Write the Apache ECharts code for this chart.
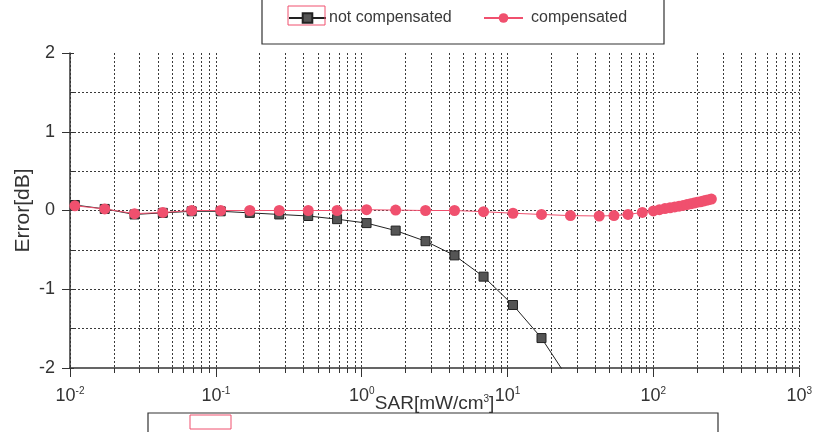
<!DOCTYPE html>
<html>
<head>
<meta charset="utf-8">
<script src="https://cdn.jsdelivr.net/npm/echarts@6/dist/echarts.min.js"></script>
<style>
html,body{margin:0;padding:0;background:#fff;}
#chart{width:815px;height:432px;}
</style>
</head>
<body>
<div id="chart"></div>
<script>
// ---- data ----
const sarNotComp = [0.0108, 0.0173, 0.0277, 0.0433, 0.0683, 0.108, 0.171, 0.272, 0.43, 0.678, 1.08, 1.71, 2.74, 4.33, 6.85, 10.9, 17.1, 27.0];
const errNotComp = [0.07, 0.02, -0.05, -0.03, -0.01, -0.01, -0.03, -0.05, -0.07, -0.11, -0.16, -0.255, -0.39, -0.57, -0.84, -1.20, -1.62, -2.18];

const sarComp = [0.0108, 0.0173, 0.0277, 0.0433, 0.0683, 0.108, 0.171, 0.272, 0.43, 0.678, 1.08, 1.71, 2.74, 4.33, 6.85, 10.9, 17.1, 27.0, 42.5, 53.7, 67.0, 84.0,
  100, 110, 120, 130, 140, 150, 160, 170, 180, 190, 200, 210, 220, 230, 240, 250];
const errComp = [0.06, 0.02, -0.04, -0.025, 0, 0, 0, 0, 0, 0, 0.01, 0.005, 0, 0, -0.015, -0.035, -0.05, -0.065, -0.07, -0.065, -0.05, -0.025,
  -0.005, 0.01, 0.025, 0.035, 0.045, 0.055, 0.065, 0.075, 0.085, 0.095, 0.105, 0.11, 0.12, 0.13, 0.138, 0.145];

const seriesNames = ['not compensated', 'compensated'];
const yTickLabels = ['-2', '-1', '0', '1', '2'];
const xAxisTitle = 'SAR[mW/cm';
const xAxisTitleSup = '3';
const yAxisTitle = 'Error[dB]';

// ---- chart ----
const FONT = "'Liberation Sans Narrow', 'Arial Narrow', 'Liberation Sans', Arial, sans-serif";
const FONT2 = "'Liberation Sans', Arial, sans-serif";
const PINK = '#f0506e';
const GRIDC = '#3a3a3a';

const chart = echarts.init(document.getElementById('chart'), null, {renderer: 'canvas'});

function zip(xs, ys) { return xs.map((x, i) => [x, ys[i]]); }

const option = {
  backgroundColor: '#fff',
  animation: false,
  grid: {left: 70, right: 13, top: 53, bottom: 64, containLabel: false},
  legend: [
    {
      data: [seriesNames[0]], left: 283, top: 5,
      itemWidth: 37, itemHeight: 12, itemGap: 0,
      textStyle: {fontFamily: FONT2, fontSize: 16, color: '#3a3a3a', padding: [0, 0, 0, -2]}
    },
    {
      data: [seriesNames[1]], left: 478, top: 5,
      itemWidth: 39, itemHeight: 12, itemGap: 0,
      textStyle: {fontFamily: FONT2, fontSize: 16, color: '#3a3a3a', padding: [0, 0, 0, 3]}
    }
  ],
  xAxis: [{
    type: 'log', logBase: 10, min: 0.01, max: 1000,
    name: '{t|' + xAxisTitle + '}{s|' + xAxisTitleSup + '}{t|]}',
    nameLocation: 'middle', nameGap: 26, nameMoveOverlap: false,
    nameTextStyle: {
      rich: {
        t: {fontFamily: FONT2, fontSize: 19, color: '#333', lineHeight: 20},
        s: {fontFamily: FONT2, fontSize: 10, color: '#333', verticalAlign: 'top', lineHeight: 20}
      }
    },
    axisLine: {show: true, onZero: false, lineStyle: {color: '#333', width: 1.5}},
    axisTick: {show: true, inside: false, length: 9, lineStyle: {color: '#333'}},
    minorTick: {show: true, splitNumber: 9, length: 5, lineStyle: {color: '#333'}},
    axisLabel: {
      margin: 18,
      formatter: function (v) {
        const e = Math.round(Math.log10(v));
        return '{b|10}{s|' + e + '}';
      },
      rich: {
        b: {fontFamily: FONT, fontSize: 18, color: '#333', lineHeight: 20},
        s: {fontFamily: FONT, fontSize: 10, color: '#333', verticalAlign: 'top', lineHeight: 20}
      }
    },
    splitLine: {show: true, lineStyle: {color: GRIDC, type: [2, 2], width: 1}},
    minorSplitLine: {show: true, lineStyle: {color: GRIDC, type: [2, 2], width: 1}}
  }],
  yAxis: [{
    type: 'value', min: -2, max: 2, interval: 1,
    name: yAxisTitle, nameLocation: 'middle', nameGap: 36, nameMoveOverlap: false,
    nameTextStyle: {fontFamily: FONT2, fontSize: 21, color: '#333'},
    axisLine: {show: true, lineStyle: {color: '#333', width: 1.5}},
    axisTick: {show: true, inside: false, length: 8, lineStyle: {color: '#333'}},
    axisLabel: {
      margin: 15, fontFamily: FONT, fontSize: 18, color: '#333',
      formatter: function (v) { return yTickLabels[Math.round(v) + 2]; }
    },
    splitLine: {show: false}
  }, {
    type: 'value', min: -2, max: 2, interval: 0.5, position: 'left',
    axisLine: {show: false},
    axisTick: {show: true, inside: true, length: 4, lineStyle: {color: '#333'}},
    axisLabel: {show: false},
    splitLine: {show: true, showMinLine: false, showMaxLine: false, lineStyle: {color: GRIDC, type: [2, 2], width: 1}}
  }],
  series: [{
    name: seriesNames[0], type: 'line', data: zip(sarNotComp, errNotComp),
    symbol: 'rect', symbolSize: 9,
    lineStyle: {color: '#222', width: 1},
    itemStyle: {color: '#555', borderColor: '#222', borderWidth: 1},
    clip: true, z: 2
  }, {
    name: seriesNames[1], type: 'line', data: zip(sarComp, errComp),
    symbol: 'circle', symbolSize: 11,
    lineStyle: {color: PINK, width: 1},
    itemStyle: {color: PINK, borderColor: PINK, borderWidth: 0},
    clip: true, z: 3
  }],
  graphic: [
    {type: 'rect', shape: {x: 262, y: -5, width: 402, height: 49}, style: {fill: 'none', stroke: '#333', lineWidth: 1.2}, z: 0, silent: true},
    {type: 'rect', shape: {x: 288, y: 6, width: 37, height: 19}, style: {fill: 'none', stroke: PINK, lineWidth: 1}, z: 10, silent: true},
    {type: 'rect', shape: {x: 148, y: 413, width: 570, height: 30}, style: {fill: 'none', stroke: '#333', lineWidth: 1.2}, silent: true},
    {type: 'rect', shape: {x: 190, y: 415, width: 41, height: 14}, style: {fill: 'none', stroke: PINK, lineWidth: 1}, silent: true}
  ]
};
chart.setOption(option);
</script>
</body>
</html>
